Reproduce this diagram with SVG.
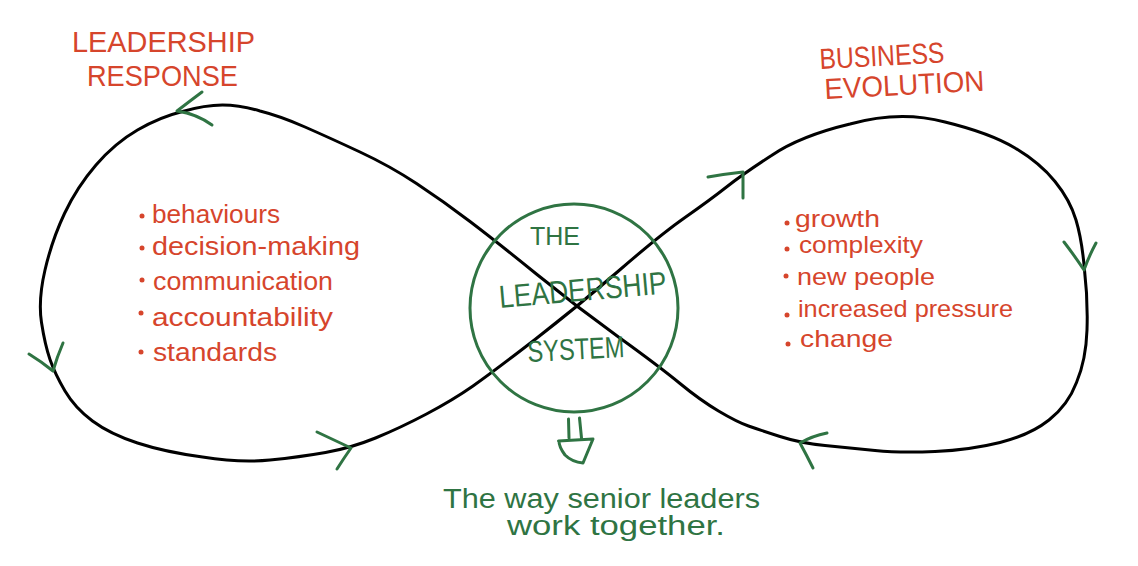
<svg xmlns="http://www.w3.org/2000/svg" width="1138" height="566" viewBox="0 0 1138 566">
<style>
.loop{fill:none;stroke:#000;stroke-width:3;stroke-linecap:round;stroke-linejoin:round}
.chev{fill:none;stroke:#2F7443;stroke-width:3;stroke-linecap:round;stroke-linejoin:round}
.red{fill:#D6452C;font-family:"Liberation Sans",Arial,sans-serif}
.grn{fill:#2F7443;font-family:"Liberation Sans",Arial,sans-serif}
.dot{fill:#D6452C}
</style>
<rect width="1138" height="566" fill="#fff"/>
<g id="connectors">
<path class="loop" d="M 618.5 337 Q 577 307 537 274.5 Q 497 242 470 221.5 Q 443 201 416.5 183.5 Q 390 166 360 152 Q 330 138 305 127 Q 280 116 260 111 Q 240 105 222.5 105 Q 205 105 182.5 111.5 Q 160 117 137.5 130 Q 115 143 96 165 Q 77 187 64.5 213.5 Q 52 240 45 270 Q 38 300 41.5 322.5 Q 45 345 50 359.5 Q 55 374 65 391 Q 75 408 92.5 421 Q 110 434 137.5 443 Q 165 452 202.5 457 Q 240 463 270 460 Q 300 457 325.5 452.5 Q 351 448 375.5 438 Q 400 428 426.5 414 Q 453 400 473 386 Q 493 372 535 339.5 Q 577 307 618.5 271 Q 660 235 685 217.5 Q 710 200 726.5 187 Q 743 174 771.5 155.5 Q 800 136 850 124 Q 900 110 945 122 Q 990 133 1015 148 Q 1040 163 1055 181.5 Q 1070 200 1076 220 Q 1082 240 1084.5 270 Q 1088 300 1087 330 Q 1086 360 1076.5 382.5 Q 1068 405 1049 420 Q 1030 435 1000 442.5 Q 970 450 935 451.5 Q 900 453 875 450.5 Q 850 448 825 445.5 Q 800 443 780 436.5 Q 760 430 748.5 426 Q 737 422 718.5 411 Q 700 400 680 383.5 Q 660 367 618.5 337 Z"/>
<path class="chev" d="M 202 92 Q 190 101 177 111 Q 197 114 212 125"/>
<path class="chev" d="M 29 354 Q 42 362 53 371 Q 57 357 63 343"/>
<path class="chev" d="M 317 432 Q 334 440 351 448 Q 344 458 337 469"/>
<path class="chev" d="M 708 177 Q 725 174 743 172 L 743 198"/>
<path class="chev" d="M 1064 242 Q 1074 255 1084 270 Q 1089 256 1096 243"/>
<path class="chev" d="M 827 433 Q 812 436 800 443 Q 807 456 813 468"/>
</g>
<g id="leadership-system">
<circle cx="574" cy="308" r="104" fill="none" stroke="#2F7443" stroke-width="3"/>
<text class="grn" x="530" y="245" font-size="25" textLength="50" lengthAdjust="spacingAndGlyphs">THE</text>
<text class="grn" x="500" y="308" font-size="32" textLength="168" lengthAdjust="spacingAndGlyphs" transform="rotate(-5 500 308)">LEADERSHIP</text>
<text class="grn" x="528" y="362" font-size="30" textLength="97" lengthAdjust="spacingAndGlyphs" transform="rotate(-3 528 362)">SYSTEM</text>
</g>
<g id="result-arrow">
<path class="chev" d="M 568.5 419 L 569 438 M 579.5 418 L 581.5 438 M 558.5 441 L 593 439 L 583 463 Q 572 462 565 455 Q 559 447 559 441"/>
</g>
<g id="result-text">
<text class="grn" x="443" y="508" font-size="27" textLength="317" lengthAdjust="spacingAndGlyphs">The way senior leaders</text>
<text class="grn" x="507" y="535" font-size="27" textLength="218" lengthAdjust="spacingAndGlyphs">work  together.</text>
</g>
<g id="leadership-response">
<text class="red" x="72" y="52" font-size="29" textLength="183" lengthAdjust="spacingAndGlyphs">LEADERSHIP</text>
<text class="red" x="87" y="86" font-size="29" textLength="151" lengthAdjust="spacingAndGlyphs">RESPONSE</text>
<circle class="dot" cx="142" cy="216" r="2.5"/>
<circle class="dot" cx="142" cy="248" r="2.5"/>
<circle class="dot" cx="142" cy="280" r="2.5"/>
<circle class="dot" cx="141" cy="313" r="2.5"/>
<circle class="dot" cx="141" cy="352" r="2.5"/>
<text class="red" x="152" y="223" font-size="26" textLength="128" lengthAdjust="spacingAndGlyphs">behaviours</text>
<text class="red" x="152" y="255" font-size="26" textLength="208" lengthAdjust="spacingAndGlyphs">decision-making</text>
<text class="red" x="153" y="290" font-size="26" textLength="180" lengthAdjust="spacingAndGlyphs">communication</text>
<text class="red" x="152" y="326" font-size="26" textLength="181" lengthAdjust="spacingAndGlyphs">accountability</text>
<text class="red" x="153" y="361" font-size="26" textLength="124" lengthAdjust="spacingAndGlyphs">standards</text>
</g>
<g id="business-evolution">
<text class="red" x="820" y="69" font-size="29" textLength="125" lengthAdjust="spacingAndGlyphs" transform="rotate(-3 820 69)">BUSINESS</text>
<text class="red" x="825" y="99" font-size="29" textLength="160" lengthAdjust="spacingAndGlyphs" transform="rotate(-3 825 99)">EVOLUTION</text>
<circle class="dot" cx="787" cy="223" r="2.5"/>
<circle class="dot" cx="787" cy="249" r="2.5"/>
<circle class="dot" cx="786" cy="276" r="2.5"/>
<circle class="dot" cx="787" cy="315" r="2.5"/>
<circle class="dot" cx="788" cy="344" r="2.5"/>
<text class="red" x="795" y="227" font-size="24" textLength="85" lengthAdjust="spacingAndGlyphs">growth</text>
<text class="red" x="799" y="253" font-size="24" textLength="124" lengthAdjust="spacingAndGlyphs">complexity</text>
<text class="red" x="797" y="285" font-size="24" textLength="138" lengthAdjust="spacingAndGlyphs">new people</text>
<text class="red" x="798" y="317" font-size="24" textLength="215" lengthAdjust="spacingAndGlyphs">increased pressure</text>
<text class="red" x="800" y="347" font-size="24" textLength="93" lengthAdjust="spacingAndGlyphs">change</text>
</g>
</svg>
